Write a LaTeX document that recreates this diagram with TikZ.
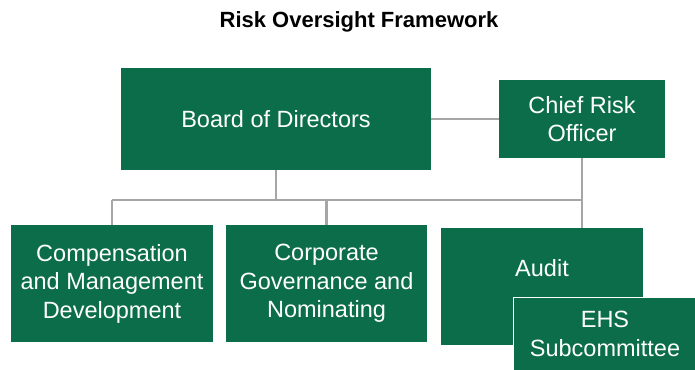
\documentclass[tikz,border=0pt]{standalone}
\usepackage{fontspec}
\setmainfont{Liberation Sans}
\definecolor{boxgreen}{RGB}{11,109,74}
\definecolor{linegray}{RGB}{166,166,166}
\begin{document}
\begin{tikzpicture}[x=1pt,y=-1pt,
  gbox/.style={fill=boxgreen,draw=none,text=white,align=center,inner sep=0pt,
    font=\fontsize{23.5}{28.5}\selectfont},
  conn/.style={draw=linegray,line width=2.6pt}]
\useasboundingbox (0,0) rectangle (695,369);
\node[font=\bfseries\fontsize{22}{26}\selectfont] (title) at (359,22) {Risk Oversight Framework};
\node[gbox,minimum width=310,minimum height=102] (board) at (276,119) {Board of Directors};
\node[gbox,minimum width=166,minimum height=78] (cro) at (582,119) {Chief Risk\\Officer};
\node[gbox,minimum width=202,minimum height=117] (comp) at (112,283.5) {Compensation\\and Management\\Development};
\node[gbox,minimum width=201,minimum height=117] (corp) at (326.5,283.5) {Corporate\\Governance and\\Nominating};
\node[gbox,minimum width=202,minimum height=117] (audit) at (542,286.5) {};
\node[gbox] (auditlbl) at (542,268) {Audit};
\node[gbox,minimum width=183,minimum height=73,draw=white,line width=1.5pt] (ehs) at (605,334) {EHS\\Subcommittee};
\coordinate (jb) at (board.south |- 0,200);
\coordinate (jl) at (comp.north |- 0,200);
\coordinate (jc) at (corp.north |- 0,200);
\coordinate (jr) at (582,200);
\draw[conn] (board.east) -- (cro.west);
\draw[conn] (board.south) -- (jb);
\draw[conn] (jl) -- (jr);
\draw[conn] (cro.south) -- (audit.north -| cro.south);
\draw[conn] (jl) -- (comp.north);
\draw[conn] (jc) -- (corp.north);
\end{tikzpicture}
\end{document}
